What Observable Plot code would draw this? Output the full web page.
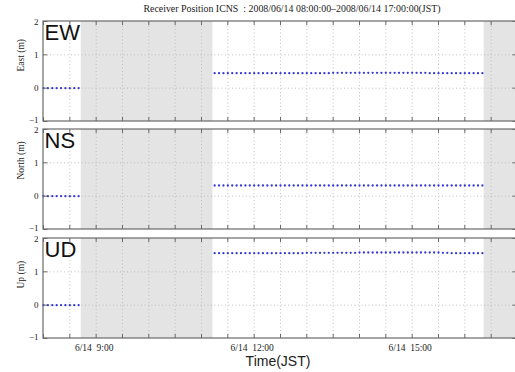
<!DOCTYPE html>
<html>
<head>
<meta charset="utf-8">
<script src="https://cdn.jsdelivr.net/npm/d3@7"></script>
<script src="https://cdn.jsdelivr.net/npm/@observablehq/plot@0.6"></script>
<style>
  html, body { margin: 0; padding: 0; background: #fff; overflow: hidden; }
  #wrap { position: relative; width: 515px; height: 372px; overflow: hidden; background: #fff; }
  .title { position: absolute; left: 0; width: 584px; top: 3px; text-align: center;
           font: 9.9px "Liberation Serif", serif; color: #222; white-space: nowrap; }
  .xlabel { position: absolute; left: 0; width: 556px; top: 353px; text-align: center;
            font: 14px "Liberation Sans", sans-serif; color: #222; }
  .panel { position: absolute; left: 0; }
</style>
</head>
<body>
<div id="wrap">
  <div class="title">Receiver Position ICNS&nbsp;&nbsp;: 2008/06/14 08:00:00–2008/06/14 17:00:00(JST)</div>
  <div class="xlabel">Time(JST)</div>
</div>
<script>
// ---- data ----
const times = [
  "08:00","08:05","08:10","08:15","08:20","08:25","08:30","08:35","08:40",
  "11:15","11:20","11:25","11:30","11:35","11:40","11:45","11:50","11:55",
  "12:00","12:05","12:10","12:15","12:20","12:25","12:30","12:35","12:40","12:45","12:50","12:55",
  "13:00","13:05","13:10","13:15","13:20","13:25","13:30","13:35","13:40","13:45","13:50","13:55",
  "14:00","14:05","14:10","14:15","14:20","14:25","14:30","14:35","14:40","14:45","14:50","14:55",
  "15:00","15:05","15:10","15:15","15:20","15:25","15:30","15:35","15:40","15:45","15:50","15:55",
  "16:00","16:05","16:10","16:15","16:20"
];
const eastValues = [
  0,0,0,0,0,0,0,0,0,
  0.45,0.45,0.45,0.45,0.45,0.45,0.45,0.45,0.45,
  0.45,0.45,0.45,0.45,0.45,0.45,0.45,0.45,0.45,0.45,0.45,0.45,
  0.45,0.45,0.45,0.45,0.45,0.45,0.46,0.46,0.46,0.46,0.46,0.46,
  0.46,0.46,0.46,0.46,0.46,0.46,0.46,0.46,0.46,0.46,0.46,0.46,
  0.46,0.46,0.46,0.46,0.45,0.45,0.45,0.45,0.45,0.45,0.45,0.45,
  0.45,0.45,0.45,0.45,0.45
];
const northValues = [
  0,0,0,0,0,0,0,0,0,
  0.32,0.32,0.32,0.32,0.32,0.32,0.32,0.32,0.32,
  0.32,0.32,0.32,0.32,0.32,0.32,0.32,0.32,0.32,0.32,0.32,0.32,
  0.32,0.32,0.32,0.32,0.32,0.32,0.32,0.32,0.32,0.32,0.32,0.32,
  0.32,0.32,0.32,0.32,0.32,0.32,0.32,0.32,0.32,0.32,0.32,0.32,
  0.32,0.32,0.32,0.32,0.32,0.32,0.32,0.32,0.32,0.32,0.32,0.32,
  0.32,0.32,0.32,0.32,0.32
];
const upValues = [
  0,0,0,0,0,0,0,0,0,
  1.56,1.56,1.56,1.56,1.56,1.56,1.56,1.56,1.56,
  1.56,1.56,1.56,1.56,1.56,1.56,1.56,1.56,1.56,1.56,1.56,1.56,
  1.57,1.57,1.57,1.57,1.57,1.57,1.57,1.57,1.57,1.57,1.57,1.57,
  1.58,1.58,1.58,1.58,1.58,1.58,1.58,1.58,1.58,1.58,1.58,1.58,
  1.58,1.58,1.58,1.58,1.58,1.58,1.58,1.57,1.57,1.56,1.56,1.56,
  1.56,1.56,1.56,1.56,1.56
];
const panelNames = ["EW", "NS", "UD"];
const axisLabels = ["East (m)", "North (m)", "Up (m)"];
const gapStarts = ["08:43", "16:22"];
const gapEnds = ["11:13", "17:00"];
const tickTimes = ["08:00","08:30","09:00","09:30","10:00","10:30","11:00","11:30","12:00",
  "12:30","13:00","13:30","14:00","14:30","15:00","15:30","16:00","16:30","17:00"];
const labelTimes = ["09:00", "12:00", "15:00"];
const labelTexts = ["6/14\u00a0\u00a09:00", "6/14\u00a0\u00a012:00", "6/14\u00a0\u00a015:00"];
const yTicks = [-1, 0, 1, 2];
const xDomain = ["08:00", "17:00"];
const yDomain = [-1, 2];

// ---- helpers ----
const hours = s => { const [h, m] = s.split(":").map(Number); return h + m / 60; };
const seriesValues = [eastValues, northValues, upValues];
const gaps = gapStarts.map((s, i) => ({x1: hours(s), x2: hours(gapEnds[i])}));
const tickH = tickTimes.map(hours);
const x0 = hours(xDomain[0]), x1 = hours(xDomain[1]);
const panelTops = [21, 129.3, 238.3];
const serif = "Liberation Serif, serif";
const wrap = document.getElementById("wrap");
const yAxisStyle = {tickSize: 0, tickPadding: 5, fontFamily: serif, fontSize: 9, fill: "#222", label: null};

panelNames.forEach((name, p) => {
  const pts = times.map((t, i) => ({t: hours(t), v: seriesValues[p][i]}));
  const isLast = p === panelNames.length - 1;
  const marks = [
    Plot.rect(gaps, {x1: "x1", x2: "x2", y1: yDomain[0], y2: yDomain[1], fill: "#e4e4e4"}),
    Plot.ruleX(tickH.slice(1, -1), {y1: yDomain[0], y2: yDomain[1], stroke: "#b4b4b4", strokeWidth: 0.8, strokeDasharray: "1,2.5"}),
    Plot.ruleY([0, 1], {x1: x0, x2: x1, stroke: "#b4b4b4", strokeWidth: 0.8, strokeDasharray: "1,2.5"}),
    Plot.dot(pts, {x: "t", y: "v", r: 1.15, fill: "#3838d4", stroke: "none"}),
    Plot.rect([0], {x1: x0, x2: x1, y1: yDomain[0], y2: yDomain[1], fill: "none", stroke: "#6a6a6a", strokeWidth: 1.2}),
    Plot.ruleX(tickH, {y1: yDomain[1], y2: yDomain[1] - 0.12, stroke: "#6a6a6a"}),
    Plot.ruleX(tickH, {y1: yDomain[0], y2: yDomain[0] + 0.12, stroke: "#6a6a6a"}),
    Plot.ruleY(yTicks, {x1: x0, x2: x0 + 0.085, stroke: "#6a6a6a"}),
    Plot.ruleY(yTicks, {x1: x1 - 0.085, x2: x1, stroke: "#6a6a6a"}),
    Plot.axisY(yTicks.filter(v => v === yDomain[0]), {...yAxisStyle, dy: -1.5}),
    Plot.axisY(yTicks.filter(v => v > yDomain[0] && v < yDomain[1]), yAxisStyle),
    Plot.axisY(yTicks.filter(v => v === yDomain[1]), {...yAxisStyle, dy: 1}),
    Plot.text([axisLabels[p]], {frameAnchor: "left", text: d => d, rotate: -90, dx: -23,
      fontFamily: serif, fontSize: 9.5, fill: "#222"}),
    Plot.text([name], {frameAnchor: "top-left", text: d => d, textAnchor: "start", lineAnchor: "top",
      dx: 1, dy: 3, fontFamily: "Liberation Sans, sans-serif", fontSize: 22, fill: "#111"})
  ];
  if (isLast) {
    marks.push(Plot.axisX(labelTimes.map(hours), {anchor: "bottom", tickSize: 0, tickPadding: 6,
      tickFormat: (d, i) => labelTexts[i], fontFamily: serif, fontSize: 9.5, fill: "#222", label: null, dx: -2}));
  }
  const svg = Plot.plot({
    width: 518,
    height: 120,
    marginLeft: 43,
    marginRight: 1,
    marginTop: 10,
    marginBottom: 10,
    x: {domain: [x0, x1], axis: null},
    y: {domain: yDomain, axis: null},
    style: {background: "transparent", overflow: "visible", maxWidth: "none"},
    marks
  });
  svg.classList.add("panel");
  svg.style.top = (panelTops[p] - 10) + "px";
  wrap.appendChild(svg);
});
</script>
</body>
</html>
